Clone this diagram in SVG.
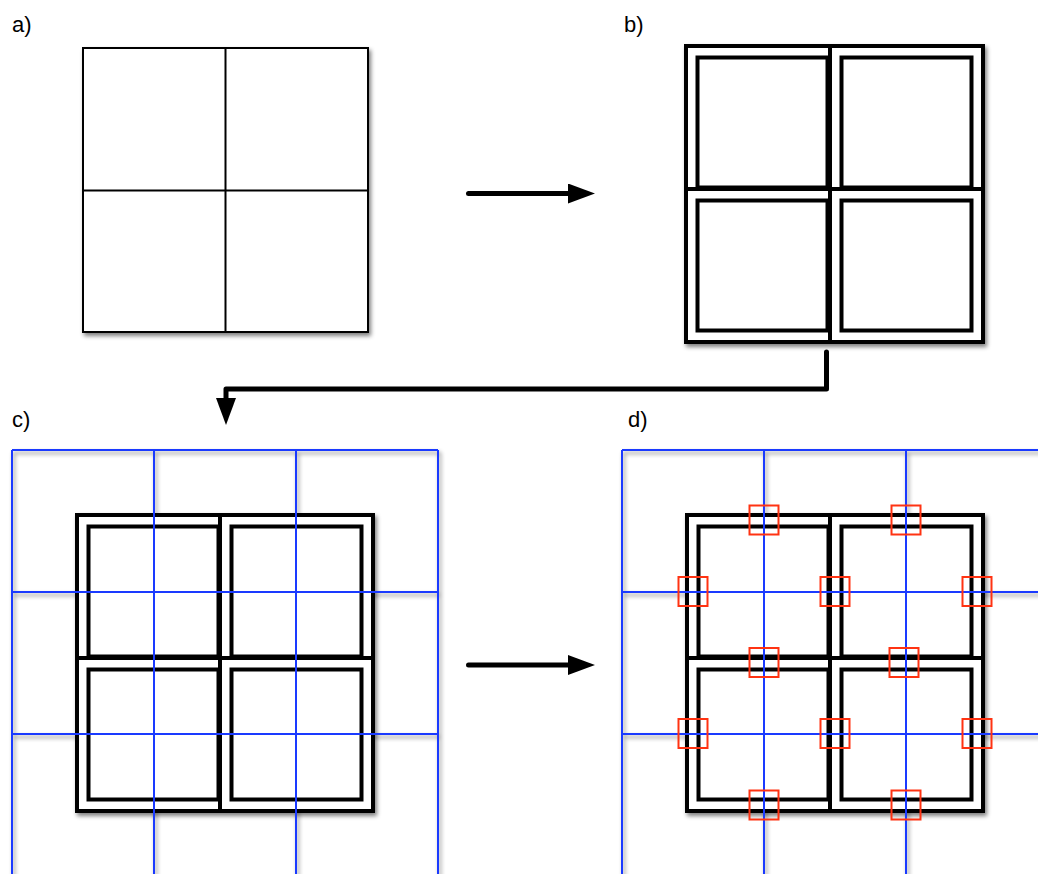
<svg xmlns="http://www.w3.org/2000/svg" xmlns:xlink="http://www.w3.org/1999/xlink" width="1038" height="874" viewBox="0 0 1038 874">
  <style>
    .label { font-family: "Liberation Sans", Arial, sans-serif; font-size: 22px; fill: #000; }
    .plain { fill: #fff; stroke: #000; stroke-width: 2; }
    .thin { stroke: #000; stroke-width: 2; fill: none; }
    .frame { fill: #fff; stroke: #000; stroke-width: 4; }
    .inner { fill: none; stroke: #000; stroke-width: 4; }
    .grid line { stroke: #1a3aff; stroke-width: 2; }
    .probe { fill: none; stroke: #ff3312; stroke-width: 2; }
    .conn { fill: none; stroke: #000; stroke-width: 5; stroke-linecap: round; stroke-linejoin: round; }
  </style>
  <defs>
    <!-- soft drop shadow used by the panels and tiles -->
    <filter id="shadow" filterUnits="userSpaceOnUse" x="0" y="0" width="1038" height="874">
      <feGaussianBlur in="SourceAlpha" stdDeviation="2.2"/>
      <feOffset dx="2" dy="3" result="blur"/>
      <feFlood flood-color="#000" flood-opacity="0.5"/>
      <feComposite in2="blur" operator="in" result="sh"/>
      <feMerge><feMergeNode in="sh"/><feMergeNode in="SourceGraphic"/></feMerge>
    </filter>
    <!-- shadow only (for grid lines that sit over the tiles) -->
    <filter id="shadowOnly" filterUnits="userSpaceOnUse" x="0" y="0" width="1038" height="874">
      <feGaussianBlur in="SourceAlpha" stdDeviation="2.2"/>
      <feOffset dx="2" dy="3" result="blur"/>
      <feFlood flood-color="#000" flood-opacity="0.45"/>
      <feComposite in2="blur" operator="in"/>
    </filter>
    <marker id="head" viewBox="0 0 27 20" refX="0" refY="10" markerWidth="27" markerHeight="20" markerUnits="userSpaceOnUse" orient="auto">
      <path d="M0,0 L27,10 L0,20 Z" fill="#000"/>
    </marker>
    <!-- a double-framed tile -->
    <g id="tile">
      <rect class="frame" x="0" y="0" width="153" height="153"/>
      <rect class="inner" x="11.5" y="11.5" width="130" height="130"/>
    </g>
    <g id="gridC" class="grid">
      <line x1="12" y1="450" x2="12" y2="880"/>
      <line x1="154" y1="450" x2="154" y2="880"/>
      <line x1="296" y1="450" x2="296" y2="880"/>
      <line x1="438" y1="450" x2="438" y2="880"/>
      <line x1="12" y1="450" x2="438" y2="450"/>
      <line x1="12" y1="592" x2="438" y2="592"/>
      <line x1="12" y1="734" x2="438" y2="734"/>
    </g>
    <g id="gridD" class="grid">
      <line x1="622" y1="450" x2="622" y2="880"/>
      <line x1="764" y1="450" x2="764" y2="880"/>
      <line x1="906" y1="450" x2="906" y2="880"/>
      <line x1="622" y1="450" x2="1048" y2="450"/>
      <line x1="622" y1="592" x2="1048" y2="592"/>
      <line x1="622" y1="734" x2="1048" y2="734"/>
    </g>
  </defs>

  <rect width="1038" height="874" fill="#fff"/>

  <!-- labels -->
  <text class="label" x="12" y="32">a)</text>
  <text class="label" x="624" y="32">b)</text>
  <text class="label" x="12" y="427">c)</text>
  <text class="label" x="628" y="427">d)</text>

  <!-- a) plain 2x2 square -->
  <g id="panel-a" filter="url(#shadow)">
    <rect class="plain" x="83" y="48" width="285" height="284"/>
    <line class="thin" x1="225.5" y1="48" x2="225.5" y2="332"/>
    <line class="thin" x1="83" y1="190.5" x2="368" y2="190.5"/>
  </g>

  <!-- b) framed tiles -->
  <g id="panel-b" filter="url(#shadow)">
    <g id="b-tl"><use xlink:href="#tile" x="686" y="46"/></g>
    <g id="b-tr"><use xlink:href="#tile" x="830" y="46"/></g>
    <g id="b-bl"><use xlink:href="#tile" x="686" y="189"/></g>
    <g id="b-br"><use xlink:href="#tile" x="830" y="189"/></g>
  </g>

  <!-- c) tiles over a blue grid -->
  <g id="panel-c">
    <use xlink:href="#gridC" filter="url(#shadowOnly)"/>
    <g filter="url(#shadow)">
      <g id="c-tl"><use xlink:href="#tile" x="77" y="515"/></g>
      <g id="c-tr"><use xlink:href="#tile" x="220" y="515"/></g>
      <g id="c-bl"><use xlink:href="#tile" x="77" y="658"/></g>
      <g id="c-br"><use xlink:href="#tile" x="220" y="658"/></g>
    </g>
    <use xlink:href="#gridC"/>
  </g>

  <!-- d) tiles, grid and sample windows -->
  <g id="panel-d">
    <use xlink:href="#gridD" filter="url(#shadowOnly)"/>
    <g filter="url(#shadow)">
      <g id="d-tl"><use xlink:href="#tile" x="687" y="515"/></g>
      <g id="d-tr"><use xlink:href="#tile" x="830" y="515"/></g>
      <g id="d-bl"><use xlink:href="#tile" x="687" y="658"/></g>
      <g id="d-br"><use xlink:href="#tile" x="830" y="658"/></g>
    </g>
    <use xlink:href="#gridD"/>
    <g id="windows">
      <rect class="probe" x="749.5" y="505.5" width="29" height="29"/>
      <rect class="probe" x="891.5" y="505.5" width="29" height="29"/>
      <rect class="probe" x="678.5" y="577" width="29" height="29"/>
      <rect class="probe" x="820.5" y="577" width="29" height="29"/>
      <rect class="probe" x="962.5" y="577" width="29" height="29"/>
      <rect class="probe" x="749.5" y="648" width="29" height="29"/>
      <rect class="probe" x="889.5" y="648" width="29" height="29"/>
      <rect class="probe" x="678.5" y="719" width="29" height="29"/>
      <rect class="probe" x="820.5" y="719" width="29" height="29"/>
      <rect class="probe" x="962.5" y="719" width="29" height="29"/>
      <rect class="probe" x="749.5" y="790.5" width="29" height="29"/>
      <rect class="probe" x="891.5" y="790.5" width="29" height="29"/>
    </g>
  </g>

  <!-- connectors -->
  <g id="connectors">
    <path class="conn" d="M468.5 193.5 H568" marker-end="url(#head)"/>
    <path class="conn" d="M826.5 352 V389 H226 V398" marker-end="url(#head)"/>
    <path class="conn" d="M468.5 665 H568" marker-end="url(#head)"/>
  </g>
</svg>
